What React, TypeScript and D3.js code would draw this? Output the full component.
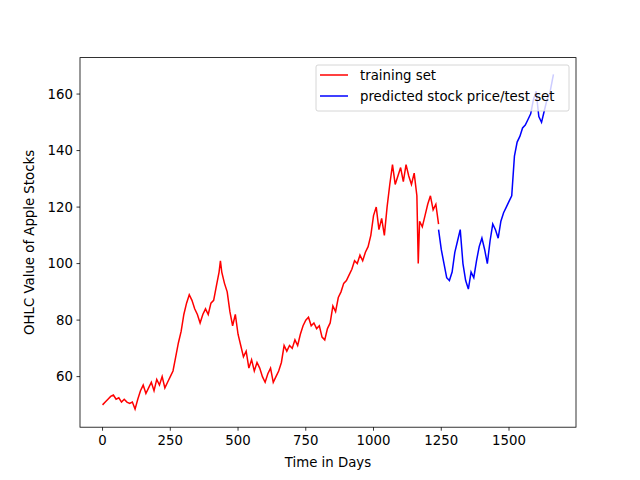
import React from 'react';
import * as d3 from 'd3';

const trainDays = [0, 10, 20, 30, 40, 50, 60, 70, 80, 90, 100, 110, 120, 130, 140, 150, 160, 170, 180, 190, 200, 210, 220, 230, 240, 250, 260, 270, 280, 290, 300, 310, 320, 330, 340, 350, 360, 370, 380, 390, 400, 410, 420, 430, 435, 440, 450, 460, 470, 480, 490, 500, 510, 520, 530, 540, 550, 560, 570, 580, 590, 600, 610, 620, 630, 640, 650, 660, 670, 680, 690, 700, 710, 720, 730, 740, 750, 760, 770, 780, 790, 800, 810, 820, 830, 840, 850, 860, 870, 880, 890, 900, 910, 920, 930, 940, 950, 960, 970, 980, 990, 1000, 1010, 1020, 1030, 1040, 1050, 1060, 1070, 1080, 1090, 1100, 1110, 1120, 1130, 1140, 1150, 1160, 1165, 1170, 1180, 1190, 1200, 1210, 1220, 1230, 1240];
const trainValues = [50, 51, 52, 53, 53.5, 52, 52.5, 51, 52, 51, 50.5, 51, 48.5, 52, 55, 57, 54, 56, 58, 55, 59, 57, 60, 56, 58, 60, 62, 67, 72, 76, 82, 86, 89, 87, 84, 82, 79, 82, 84, 82, 86, 87, 92, 97, 101, 97, 93, 90, 83, 78, 82, 75, 71, 67, 69, 63, 66, 62, 65, 63, 60, 58, 61, 63, 58, 60, 62, 65, 71, 69, 71, 70, 73, 71, 75, 78, 80, 81, 78, 79, 77, 78, 74, 73, 77, 79, 85, 83, 88, 90, 93, 94, 96, 98, 101, 100, 103, 101, 104, 106, 110, 117, 120, 112, 116, 110, 120, 128, 135, 128, 131, 134, 129, 135, 131, 128, 132, 124, 100, 115, 113, 117, 121, 124, 119, 121, 114];
const testDays = [1240, 1250, 1260, 1270, 1280, 1290, 1300, 1310, 1320, 1330, 1340, 1350, 1360, 1370, 1380, 1390, 1400, 1410, 1420, 1430, 1440, 1450, 1460, 1470, 1480, 1490, 1500, 1510, 1520, 1530, 1540, 1550, 1560, 1570, 1580, 1590, 1600, 1610, 1620, 1630, 1640, 1650, 1660, 1664];
const testValues = [112, 105, 100, 95, 94, 97, 104, 108, 112, 100, 94, 91, 97, 95, 101, 106, 109, 105, 100, 108, 114, 112, 109, 115, 118, 120, 122, 124, 138, 143, 145, 148, 149, 151, 153, 158, 161, 152, 150, 154, 158, 160, 165, 167];
const xTicks = [0, 250, 500, 750, 1000, 1250, 1500];
const yTicks = [60, 80, 100, 120, 140, 160];

const W = 640, H = 480;
const left = 80, right = 576, top = 57.6, bottom = 427.2;

export default function App() {
  const x = d3.scaleLinear().domain([-83.2, 1747.2]).range([left, right]);
  const y = d3.scaleLinear().domain([42.1, 172.9]).range([bottom, top]);
  const line = d3.line<[number, number]>().x(d => x(d[0])).y(d => y(d[1]));
  const train = trainDays.map((d, i) => [d, trainValues[i]] as [number, number]);
  const test = testDays.map((d, i) => [d, testValues[i]] as [number, number]);
  const font = 'DejaVu Sans, sans-serif';
  const fs = 13.3;
  return (
    <svg width={W} height={H} style={{ position: 'absolute', left: 0, top: 0, fontFamily: font }}>
      <rect width={W} height={H} fill="#fff" />
      <path d={line(train) || ''} fill="none" stroke="#ff0000" strokeWidth={1.5} />
      <path d={line(test) || ''} fill="none" stroke="#0000ff" strokeWidth={1.5} />
      <rect x={left} y={top} width={right - left} height={bottom - top} fill="none" stroke="#000" strokeWidth={0.8} />
      {xTicks.map(t => (
        <g key={t}>
          <line x1={x(t)} x2={x(t)} y1={bottom} y2={bottom + 3.5} stroke="#000" strokeWidth={0.8} />
          <text x={x(t)} y={bottom + 18} fontSize={fs} textAnchor="middle">{t}</text>
        </g>
      ))}
      {yTicks.map(t => (
        <g key={t}>
          <line x1={left - 3.5} x2={left} y1={y(t)} y2={y(t)} stroke="#000" strokeWidth={0.8} />
          <text x={left - 7} y={y(t) + 4.5} fontSize={fs} textAnchor="end">{t}</text>
        </g>
      ))}
      <text x={(left + right) / 2} y={467} fontSize={fs} textAnchor="middle">Time in Days</text>
      <text transform={`translate(34,${(top + bottom) / 2}) rotate(-90)`} fontSize={fs} textAnchor="middle">OHLC Value of Apple Stocks</text>
      <rect x={316} y={65} width={253} height={46} rx={2} fill="#fff" fillOpacity={0.8} stroke="#ccc" strokeWidth={0.8} />
      <line x1={320} x2={348} y1={75} y2={75} stroke="#ff0000" strokeWidth={1.5} />
      <text x={360} y={80} fontSize={fs}>training set</text>
      <line x1={320} x2={348} y1={96} y2={96} stroke="#0000ff" strokeWidth={1.5} />
      <text x={360} y={101} fontSize={fs}>predicted stock price/test set</text>
    </svg>
  );
}
